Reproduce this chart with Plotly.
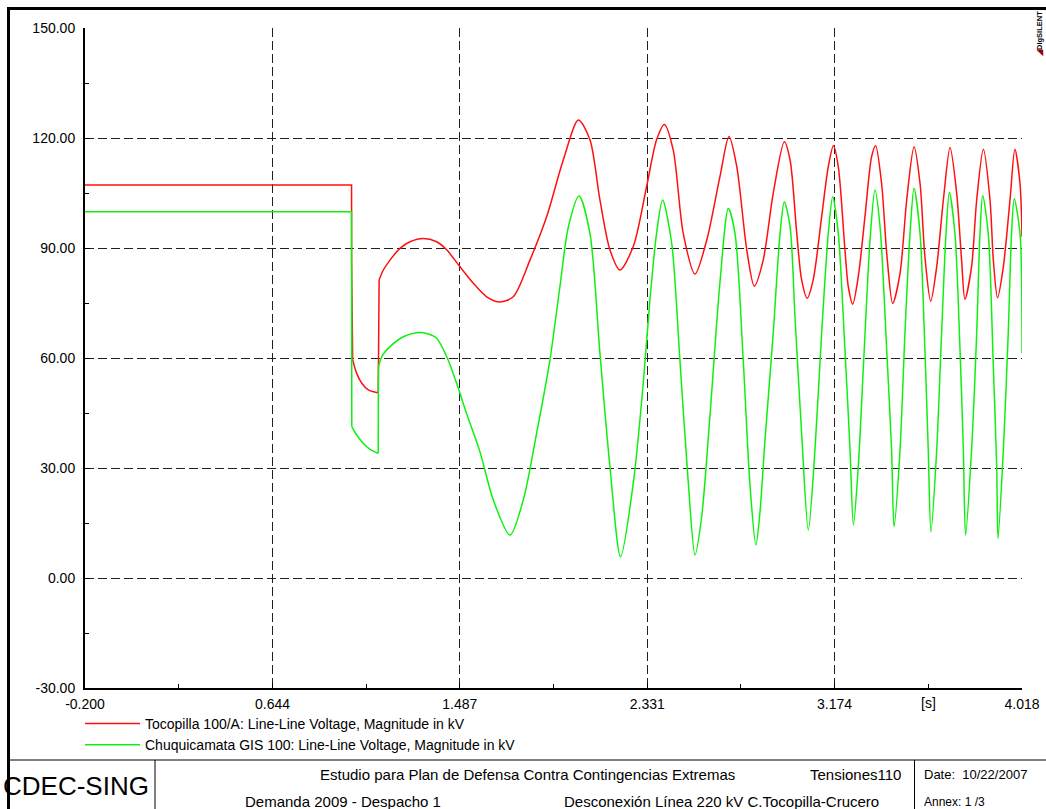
import plotly.graph_objects as go

FONT = "Liberation Sans, Arial, Helvetica, sans-serif"

# ---------------------------------------------------------------------------
# Tocopilla 100/A : line-line voltage magnitude [kV]
# ---------------------------------------------------------------------------
red_pre_t = [-0.200, 1.000, 1.000, 1.003, 1.005]
red_pre_v = [107.2, 107.2, 86.7, 69.0, 59.5]

red_fault_t = [1.005, 1.023, 1.046, 1.075, 1.100, 1.120]
red_fault_v = [59.5, 55.8, 53.1, 51.3, 50.8, 50.5]

red_clear_t = [1.120, 1.124]
red_clear_v = [50.5, 81.3]

red_post_t = [1.124, 1.143, 1.173, 1.218, 1.263, 1.323, 1.383, 1.428, 1.488, 1.548,
              1.608, 1.668, 1.728, 1.803, 1.878, 1.953, 2.021, 2.073, 2.118, 2.163,
              2.208, 2.268, 2.328, 2.373, 2.408, 2.448, 2.493, 2.546, 2.599, 2.658,
              2.699, 2.734, 2.779, 2.813, 2.853, 2.898, 2.948, 2.974, 3.004, 3.026,
              3.051, 3.078, 3.116, 3.146, 3.169, 3.191, 3.221, 3.236, 3.256, 3.281,
              3.311, 3.341, 3.359, 3.386, 3.409, 3.436, 3.469, 3.499, 3.532, 3.559,
              3.581, 3.607, 3.634, 3.664, 3.694, 3.724, 3.746, 3.761, 3.791, 3.814,
              3.844, 3.874, 3.889, 3.908, 3.934, 3.964, 3.986, 4.009, 4.018]
red_post_v = [81.3, 84.0, 86.7, 89.9, 91.7, 92.6, 91.7, 89.5, 84.9, 80.4,
              76.7, 75.3, 76.7, 86.7, 98.5, 114.0, 124.9, 119.5, 103.1, 89.5,
              84.0, 90.4, 106.7, 119.5, 123.7, 116.7, 94.0, 82.9, 92.2, 109.4,
              120.4, 112.2, 89.5, 79.6, 86.7, 104.9, 119.0, 114.0, 94.0, 81.3,
              76.3, 81.3, 98.5, 112.2, 117.9, 112.2, 89.5, 79.5, 74.7, 82.2,
              98.5, 114.9, 117.9, 107.6, 88.6, 74.9, 83.1, 103.1, 117.6, 107.6,
              87.6, 75.5, 84.9, 103.1, 117.4, 104.9, 86.7, 76.0, 84.9, 103.1,
              116.9, 103.1, 86.7, 76.4, 84.9, 103.1, 116.9, 107.6, 93.1]

# ---------------------------------------------------------------------------
# Chuquicamata GIS 100 : line-line voltage magnitude [kV]
# ---------------------------------------------------------------------------
green_pre_t = [-0.200, 1.000, 1.001]
green_pre_v = [99.9, 99.9, 41.3]

green_fault_t = [1.001, 1.023, 1.053, 1.083, 1.120]
green_fault_v = [41.3, 39.0, 36.7, 35.1, 34.0]

green_clear_t = [1.120, 1.121]
green_clear_v = [34.0, 57.6]

green_post_t = [1.121, 1.136, 1.173, 1.233, 1.293, 1.338, 1.383, 1.428, 1.473, 1.518,
                1.578, 1.638, 1.713, 1.773, 1.833, 1.893, 1.938, 1.976, 2.024, 2.073,
                2.118, 2.163, 2.211, 2.268, 2.313, 2.343, 2.373, 2.400, 2.441, 2.478,
                2.516, 2.546, 2.576, 2.613, 2.658, 2.696, 2.726, 2.763, 2.793, 2.820,
                2.838, 2.861, 2.898, 2.929, 2.948, 2.974, 2.996, 3.026, 3.056, 3.086,
                3.116, 3.146, 3.166, 3.191, 3.221, 3.244, 3.259, 3.281, 3.304, 3.334,
                3.356, 3.379, 3.409, 3.431, 3.442, 3.469, 3.491, 3.514, 3.532, 3.559,
                3.581, 3.596, 3.608, 3.634, 3.656, 3.676, 3.691, 3.716, 3.739, 3.754,
                3.764, 3.791, 3.814, 3.829, 3.841, 3.866, 3.889, 3.904, 3.910, 3.934,
                3.956, 3.971, 3.983, 4.009, 4.018]
green_post_v = [57.6, 60.4, 63.1, 65.8, 66.9, 66.7, 65.4, 60.4, 53.1, 44.8,
                34.4, 21.3, 11.7, 21.3, 39.5, 59.5, 79.5, 95.8, 104.2, 94.0,
                61.3, 30.4, 5.8, 25.8, 53.1, 75.8, 94.0, 103.1, 91.3, 59.5,
                25.8, 6.3, 16.7, 44.0, 80.4, 100.8, 94.0, 59.5, 25.8, 9.0,
                17.6, 37.6, 66.7, 94.0, 102.6, 95.8, 71.3, 39.5, 13.1, 34.9,
                66.7, 94.0, 104.0, 94.0, 62.2, 34.9, 14.5, 30.4, 57.6, 92.2,
                105.8, 95.8, 62.2, 34.9, 14.0, 34.9, 66.7, 94.0, 106.3, 94.0,
                62.2, 34.9, 12.6, 34.9, 66.7, 94.0, 105.2, 94.0, 62.2, 34.9,
                11.7, 34.9, 66.7, 94.0, 104.3, 94.0, 57.6, 30.4, 10.8, 34.9,
                66.7, 94.0, 103.4, 94.0, 61.3]

# axis ticks
x_ticks = [-0.200, 0.644, 1.487, 2.331, 3.174, 4.018]
x_tick_labels = ["-0.200", "0.644", "1.487", "2.331", "3.174", "4.018"]
x_minor = [0.222, 1.0655, 1.909, 2.7525, 3.596]
y_ticks = [-30, 0, 30, 60, 90, 120, 150]
y_tick_labels = ["-30.00", "0.00", "30.00", "60.00", "90.00", "120.00", "150.00"]
y_minor = [-15, 15, 45, 75, 105, 135]

RED = "#ff1010"
GREEN = "#10f010"
red_name = "Tocopilla 100/A: Line-Line Voltage, Magnitude in kV"
green_name = "Chuquicamata GIS 100: Line-Line Voltage, Magnitude in kV"

fig = go.Figure()


def add_segment(t, v, color, name, group, shape, show):
    fig.add_trace(go.Scatter(
        x=t, y=v, mode="lines", name=name, legendgroup=group, showlegend=show,
        line=dict(color=color, width=1.5, shape=shape, smoothing=0.8 if shape == "spline" else None),
        hoverinfo="x+y",
    ))


add_segment(red_pre_t, red_pre_v, RED, red_name, "red", "linear", True)
add_segment(red_fault_t, red_fault_v, RED, red_name, "red", "spline", False)
add_segment(red_clear_t, red_clear_v, RED, red_name, "red", "linear", False)
add_segment(red_post_t, red_post_v, RED, red_name, "red", "spline", False)
add_segment(green_pre_t, green_pre_v, GREEN, green_name, "green", "linear", True)
add_segment(green_fault_t, green_fault_v, GREEN, green_name, "green", "spline", False)
add_segment(green_clear_t, green_clear_v, GREEN, green_name, "green", "linear", False)
add_segment(green_post_t, green_post_v, GREEN, green_name, "green", "spline", False)

# page geometry (pixels)
W, H = 1046, 809
L, R, T, B = 85, 1022, 28, 688


def px(x):
    return (x - L) / (R - L)


def py(y):
    return (B - y) / (B - T)


axis_common = dict(
    showgrid=True, gridcolor="#202020", gridwidth=1, griddash="9px,4px",
    showline=True, linecolor="black", linewidth=2,
    ticks="inside", ticklen=5, tickcolor="black", tickwidth=1,
    zeroline=False, automargin=False,
    tickfont=dict(family=FONT, size=14, color="black"),
)

fig.update_xaxes(range=[-0.2, 4.018], tickmode="array", tickvals=x_ticks, ticktext=x_tick_labels,
                 minor=dict(tickvals=x_minor, ticks="inside", ticklen=4, tickcolor="black", showgrid=False),
                 ticklabelstandoff=2, **axis_common)
fig.update_yaxes(range=[-30, 150], tickmode="array", tickvals=y_ticks, ticktext=y_tick_labels,
                 minor=dict(tickvals=y_minor, ticks="inside", ticklen=4, tickcolor="black", showgrid=False),
                 ticklabelstandoff=5, **axis_common)

# page frame and title block
shapes = [
    dict(type="line", x0=px(7), x1=px(W + 2), y0=py(8.5), y1=py(8.5), line=dict(color="black", width=3)),
    dict(type="line", x0=px(8.5), x1=px(8.5), y0=py(7), y1=py(H + 2), line=dict(color="black", width=3)),
    dict(type="line", x0=px(8.5), x1=px(W + 2), y0=py(760), y1=py(760), line=dict(color="black", width=1)),
    dict(type="line", x0=px(155), x1=px(155), y0=py(760), y1=py(H + 2), line=dict(color="black", width=1)),
    dict(type="line", x0=px(914.5), x1=px(914.5), y0=py(760), y1=py(H + 2), line=dict(color="black", width=1)),
]
for s in shapes:
    s.update(xref="paper", yref="paper", layer="above")


def note(text, x, y, size, xanchor="center", **kw):
    return dict(text=text, x=px(x), y=py(y), xref="paper", yref="paper", xanchor=xanchor,
                yanchor="middle", showarrow=False, font=dict(family=FONT, size=size, color="black"), **kw)


annotations = [
    note("[s]", L + (3.596 + 0.2) * (R - L) / 4.218, 703, 14),
    note("CDEC-SING", 76, 786, 26),
    note("Estudio para Plan de Defensa Contra Contingencias Extremas", 527, 774, 15),
    note("Tensiones110", 855, 774, 15),
    note("Demanda 2009 - Despacho 1", 343, 801, 15),
    note("Desconexión Línea 220 kV C.Tocopilla-Crucero", 721, 801, 15),
    note("Date:  10/22/2007", 922, 774, 13, xanchor="left"),
    note("Annex: 1 /3", 922, 802, 12, xanchor="left"),
    note("<b><span style='color:#a00000'>◢</span>DIgSILENT</b>", 1040, 34, 7.5, textangle=-90),
]

fig.update_layout(
    width=W, height=H, autosize=False,
    margin=dict(l=L, r=W - R, t=T, b=H - B, pad=0, autoexpand=False),
    paper_bgcolor="white", plot_bgcolor="white",
    showlegend=True,
    legend=dict(x=px(L - 5), y=py(708), xanchor="left", yanchor="top",
                bgcolor="rgba(0,0,0,0)", font=dict(family=FONT, size=14, color="black"),
                itemwidth=55, tracegroupgap=0, traceorder="normal"),
    shapes=shapes, annotations=annotations,
    font=dict(family=FONT, color="black"),
)

fig.write_html("out.html")
